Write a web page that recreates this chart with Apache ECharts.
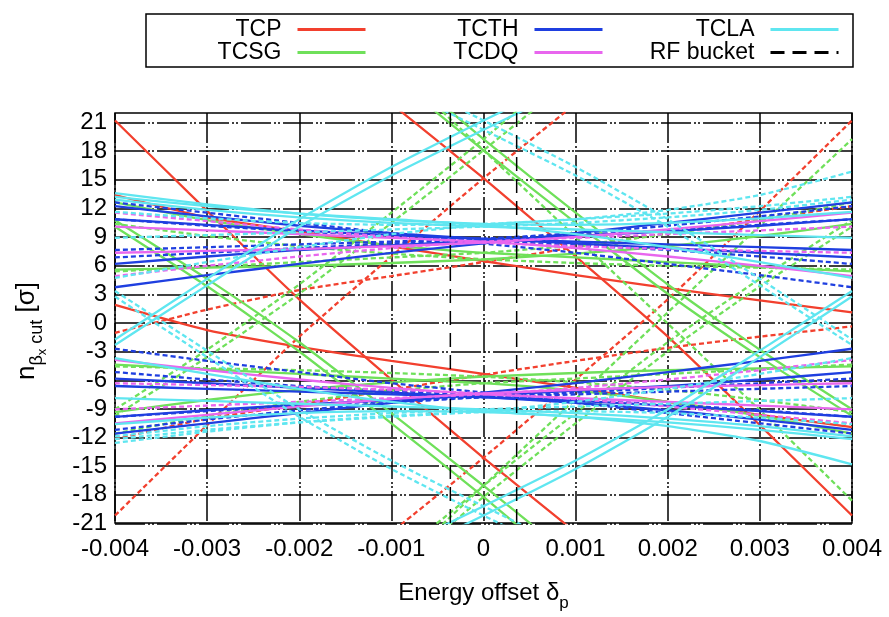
<!DOCTYPE html>
<html>
<head>
<meta charset="utf-8">
<title>Collimator cuts vs energy offset</title>
<script src="https://cdn.jsdelivr.net/npm/echarts@6/dist/echarts.min.js"></script>
<style>body{margin:0;background:#fff}</style>
</head>
<body>
<div id="main" style="width:889px;height:617px;"></div>
<script type="text/javascript">
// energy offsets at which each cut was read
var deltaSteps = [-0.004, -0.003, -0.002, -0.001, 0, 0.001, 0.002, 0.003, 0.004];
var xTickLabels = ['-0.004', '-0.003', '-0.002', '-0.001', '0', '0.001', '0.002', '0.003', '0.004'];
var yRange = [-22, 22];
var rfBucket = [-0.00036, 0.00036];

// cut in sigma at each delta, solid = beam 1, dashed = beam 2
var tcpSolid = [
  [47, 39, 31, 23, 15, 6.6, -2.0, -11.5, -21.2],
  [13.2, 10.8, 9.3, 7.7, 6.1, 4.6, 3.2, 1.9, 0.6],
  [21.2, 11.5, 2.0, -6.6, -15, -23, -31, -39, -47],
  [1.4, -1.3, -3.1, -4.6, -6.0, -7.5, -9.0, -10.4, -11.7]
];
var tcpDashed = [
  [-21.2, -11.5, -2.0, 6.6, 15, 23, 31, 39, 47],
  [-1.6, 0.9, 3.0, 4.5, 6.0, 7.6, 9.1, 10.6, 12.0],
  [-47, -39, -31, -23, -15, -6.6, 2.0, 11.5, 21.2],
  [-13.0, -10.8, -9.3, -7.7, -6.1, -4.6, -3.2, -2.0, -0.9]
];
var tcsgSolid = [
  [49, 41.5, 34, 26, 18, 10.2, 2.6, -4.2, -10.5],
  [50.5, 43, 35.5, 27.5, 19.2, 11.3, 3.6, -3.4, -9.8],
  [12.4, 10.5, 9.0, 7.8, 7.0, 6.5, 6.0, 5.5, 5.0],
  [5.2, 5.4, 5.6, 5.9, 6.3, 6.9, 7.7, 8.8, 10.1],
  [10.5, 4.2, -2.6, -10.2, -18, -26, -34, -41.5, -49],
  [9.8, 3.4, -3.6, -11.3, -19.2, -27.5, -35.5, -43, -50.5],
  [-5.0, -5.5, -6.0, -6.5, -7.0, -7.8, -9.0, -10.5, -12.4],
  [-10.1, -8.8, -7.7, -6.9, -6.3, -5.9, -5.6, -5.4, -5.2]
];
var tcsgDashed = [
  [-10.5, -4.2, 2.6, 10.2, 18, 26, 34, 41.5, 49],
  [-9.8, -3.4, 3.6, 11.3, 19.2, 27.5, 35.5, 43, 50.5],
  [5.0, 5.5, 6.0, 6.5, 7.0, 7.8, 9.0, 10.5, 12.4],
  [10.1, 8.8, 7.7, 6.9, 6.3, 5.9, 5.6, 5.4, 5.2],
  [-49, -41.5, -34, -26, -18, -10.2, -2.6, 4.2, 10.5],
  [-50.5, -43, -35.5, -27.5, -19.2, -11.3, -3.6, 3.4, 9.8],
  [-12.4, -10.5, -9.0, -7.8, -7.0, -6.5, -6.0, -5.5, -5.0],
  [-5.2, -5.4, -5.6, -5.9, -6.3, -6.9, -7.7, -8.8, -10.1],
  [-55, -46, -36.6, -27.3, -18, -8.7, 0.6, 9.9, 19.2],
  [55, 46, 36.6, 27.3, 18, 8.7, -0.6, -9.9, -19.6]
];
var tcthSolid = [
  [3.3, 4.6, 5.8, 7.0, 8.0, 9.1, 10.2, 11.3, 12.4],
  [12.0, 10.9, 9.9, 9.1, 8.5, 8.0, 7.5, 7.0, 6.5],
  [5.8, 6.6, 7.3, 7.8, 8.3, 8.8, 9.3, 9.9, 10.6],
  [10.6, 10.0, 9.4, 8.9, 8.5, 8.2, 7.9, 7.6, 7.3],
  [-12.4, -11.3, -10.2, -9.1, -8.0, -7.0, -5.8, -4.6, -3.3],
  [-6.5, -7.0, -7.5, -8.0, -8.5, -9.1, -9.9, -10.9, -12.0],
  [-10.6, -9.9, -9.3, -8.8, -8.3, -7.8, -7.3, -6.6, -5.8],
  [-7.3, -7.6, -7.9, -8.2, -8.5, -8.9, -9.4, -10.0, -10.6]
];
var tcthDashed = [
  [12.4, 11.3, 10.2, 9.1, 8.0, 7.0, 5.8, 4.6, 3.3],
  [6.5, 7.0, 7.5, 8.0, 8.5, 9.1, 9.9, 10.9, 12.0],
  [10.6, 9.9, 9.3, 8.8, 8.3, 7.8, 7.3, 6.6, 5.8],
  [7.3, 7.6, 7.9, 8.2, 8.5, 8.9, 9.4, 10.0, 10.6],
  [-3.3, -4.6, -5.8, -7.0, -8.0, -9.1, -10.2, -11.3, -12.4],
  [-12.0, -10.9, -9.9, -9.1, -8.5, -8.0, -7.5, -7.0, -6.5],
  [-5.8, -6.6, -7.3, -7.8, -8.3, -8.8, -9.3, -9.9, -10.6],
  [-10.6, -10.0, -9.4, -8.9, -8.5, -8.2, -7.9, -7.6, -7.3]
];
var tcdqSolid = [
  [9.8, 9.4, 9.0, 8.6, 8.2, 7.5, 6.6, 5.6, 4.5],
  [7.0, 7.2, 7.4, 7.7, 8.1, 8.7, 9.5, 10.4, 11.3],
  [-4.5, -5.6, -6.6, -7.5, -8.2, -8.6, -9.0, -9.4, -9.8],
  [-11.3, -10.4, -9.5, -8.7, -8.1, -7.7, -7.4, -7.2, -7.0]
];
var tcdqDashed = [
  [4.5, 5.6, 6.6, 7.5, 8.2, 8.6, 9.0, 9.4, 9.8],
  [11.3, 10.4, 9.5, 8.7, 8.1, 7.7, 7.4, 7.2, 7.0],
  [-9.8, -9.4, -9.0, -8.6, -8.2, -7.5, -6.6, -5.6, -4.5],
  [-7.0, -7.2, -7.4, -7.7, -8.1, -8.7, -9.5, -10.4, -11.3]
];
var tclaSolid = [
  [-2.9, 3.5, 9.8, 15.3, 20.2, 25, 30, 35, 40],
  [-2.3, 4.2, 10.6, 16.2, 21.2, 26, 31, 36, 41],
  [13.4, 12.2, 11.2, 10.5, 10.1, 10.0, 10.2, 10.7, 11.4],
  [12.7, 11.6, 10.8, 10.2, 9.8, 9.5, 9.2, 8.9, 8.6],
  [13.0, 12.0, 11.2, 10.6, 10.0, 9.0, 7.6, 6.0, 4.3],
  [-40, -35, -30, -25, -20.2, -15.3, -9.8, -3.5, 2.9],
  [-41, -36, -31, -26, -21.2, -16.2, -10.6, -4.2, 2.3],
  [-11.4, -10.7, -10.2, -10.0, -10.1, -10.6, -11.6, -13.2, -15.7],
  [-8.6, -8.9, -9.2, -9.5, -9.8, -10.2, -10.8, -11.6, -12.7],
  [-4.3, -6.0, -7.6, -9.0, -10.0, -10.6, -11.2, -12.0, -13.0]
];
var tclaDashed = [
  [40, 35, 30, 25, 20.2, 15.3, 9.8, 3.5, -2.9],
  [41, 36, 31, 26, 21.2, 16.2, 10.6, 4.2, -2.3],
  [11.4, 10.7, 10.2, 10.0, 10.1, 10.6, 11.6, 13.2, 15.7],
  [8.6, 8.9, 9.2, 9.5, 9.8, 10.2, 10.8, 11.6, 12.7],
  [4.3, 6.0, 7.6, 9.0, 10.0, 10.6, 11.2, 12.0, 13.0],
  [2.9, -3.5, -9.8, -15.3, -20.2, -25, -30, -35, -40],
  [2.3, -4.2, -10.6, -16.2, -21.2, -26, -31, -36, -41],
  [-13.4, -12.2, -11.2, -10.5, -10.1, -10.0, -10.2, -10.7, -11.4],
  [-12.7, -11.6, -10.8, -10.2, -9.8, -9.5, -9.2, -8.9, -8.6],
  [-13.0, -12.0, -11.2, -10.6, -10.0, -9.0, -7.6, -6.0, -4.3]
];

var FONT = "'Liberation Sans', Arial, sans-serif";
var gridDash = [30, 3, 2, 2, 2, 3];

var series = [];
function addLines(name, color, rows, dashed) {
  rows.forEach(function (row) {
    series.push({
      name: name,
      type: 'line',
      xAxisIndex: 0,
      yAxisIndex: 0,
      data: row.map(function (v, i) { return [deltaSteps[i], v]; }),
      symbol: 'none',
      showSymbol: false,
      smooth: 0.2,
      silent: true,
      lineStyle: { color: color, width: 2.3, type: dashed ? [5, 3] : 'solid' },
      itemStyle: { color: color }
    });
  });
}
addLines('TCP', '#f2402e', tcpSolid, false);
addLines('TCP', '#f2402e', tcpDashed, true);
addLines('TCSG', '#6fe05a', tcsgSolid, false);
addLines('TCSG', '#6fe05a', tcsgDashed, true);
addLines('TCTH', '#1f3fe0', tcthSolid, false);
addLines('TCTH', '#1f3fe0', tcthDashed, true);
addLines('TCDQ', '#e866ee', tcdqSolid, false);
addLines('TCDQ', '#e866ee', tcdqDashed, true);
addLines('TCLA', '#5fe6f0', tclaSolid, false);
addLines('TCLA', '#5fe6f0', tclaDashed, true);
rfBucket.forEach(function (d) {
  series.push({
    name: 'RF bucket',
    type: 'line',
    xAxisIndex: 0,
    yAxisIndex: 0,
    data: [[d, yRange[0]], [d, yRange[1]]],
    symbol: 'none',
    showSymbol: false,
    silent: true,
    lineStyle: { color: '#000', width: 1.5, type: [14, 8] },
    itemStyle: { color: '#000' }
  });
});

// gnuplot style key: text on the left, sample on the right
function keyItem(name, right, top) {
  return {
    data: [name],
    right: right,
    top: top,
    padding: 0,
    align: 'right',
    itemWidth: 68,
    itemHeight: 14,
    selectedMode: false,
    itemStyle: { opacity: 0 },
    lineStyle: { width: 3 },
    textStyle: { fontFamily: FONT, fontSize: 23, color: '#000', padding: [0, 11, 0, 0] }
  };
}

var myChart = echarts.init(document.getElementById('main'));
var option = {
  backgroundColor: '#fff',
  animation: false,
  textStyle: { fontFamily: FONT },
  legend: [
    keyItem('TCP', 522, 18),
    keyItem('TCSG', 522, 41),
    keyItem('TCTH', 285, 18),
    keyItem('TCDQ', 285, 41),
    keyItem('TCLA', 49, 18),
    keyItem('RF bucket', 49, 41)
  ],
  graphic: [{
    type: 'rect',
    shape: { x: 146, y: 14, width: 707, height: 53 },
    style: { fill: 'none', stroke: '#000', lineWidth: 1.5 },
    silent: true
  }],
  grid: [
    { left: 115, right: 37, top: 113, bottom: 84, show: true, borderColor: '#000', borderWidth: 1.5, backgroundColor: 'transparent' },
    { left: 115, right: 37, top: 122.5, bottom: 93.5 }
  ],
  xAxis: [{
    type: 'value',
    gridIndex: 0,
    min: -0.004,
    max: 0.004,
    interval: 0.001,
    name: '{n|Energy offset δ}{s|p}',
    nameLocation: 'middle',
    nameGap: 58,
    nameTextStyle: {
      rich: {
        n: { fontFamily: FONT, fontSize: 24, color: '#000', verticalAlign: 'bottom', padding: [0, 0, 7, 0] },
        s: { fontFamily: FONT, fontSize: 17, color: '#000', verticalAlign: 'bottom' }
      }
    },
    axisLine: { show: false },
    axisTick: { show: false },
    axisLabel: {
      margin: 14,
      fontFamily: FONT,
      fontSize: 24,
      color: '#000',
      formatter: function (v) {
        var i = Math.round((v - deltaSteps[0]) / 0.001);
        return xTickLabels[i];
      }
    },
    splitLine: { show: true, lineStyle: { color: '#000', width: 1.5, type: gridDash } }
  }, {
    type: 'value',
    gridIndex: 1,
    min: -0.004,
    max: 0.004,
    show: false
  }],
  yAxis: [{
    type: 'value',
    gridIndex: 0,
    min: yRange[0],
    max: yRange[1],
    show: false,
    splitLine: { show: false }
  }, {
    type: 'value',
    gridIndex: 1,
    min: -21,
    max: 21,
    interval: 3,
    name: '{n|n}{s|β}{ss|x}{s| cut}{n| [σ]}',
    nameLocation: 'middle',
    nameRotate: 90,
    nameGap: 66,
    nameTextStyle: {
      padding: [0, 16, 0, 0],
      rich: {
        n: { fontFamily: FONT, fontSize: 26, color: '#000', verticalAlign: 'bottom', padding: [0, 0, 9, 0] },
        s: { fontFamily: FONT, fontSize: 18, color: '#000', verticalAlign: 'bottom', padding: [0, 0, 3, 0] },
        ss: { fontFamily: FONT, fontSize: 13, color: '#000', verticalAlign: 'bottom' }
      }
    },
    axisLine: { show: false },
    axisTick: { show: false },
    axisLabel: { margin: 8, fontFamily: FONT, fontSize: 24, color: '#000' },
    splitLine: { show: true, lineStyle: { color: '#000', width: 1.5, type: gridDash } }
  }],
  series: series
};
myChart.setOption(option);
</script>
</body>
</html>
